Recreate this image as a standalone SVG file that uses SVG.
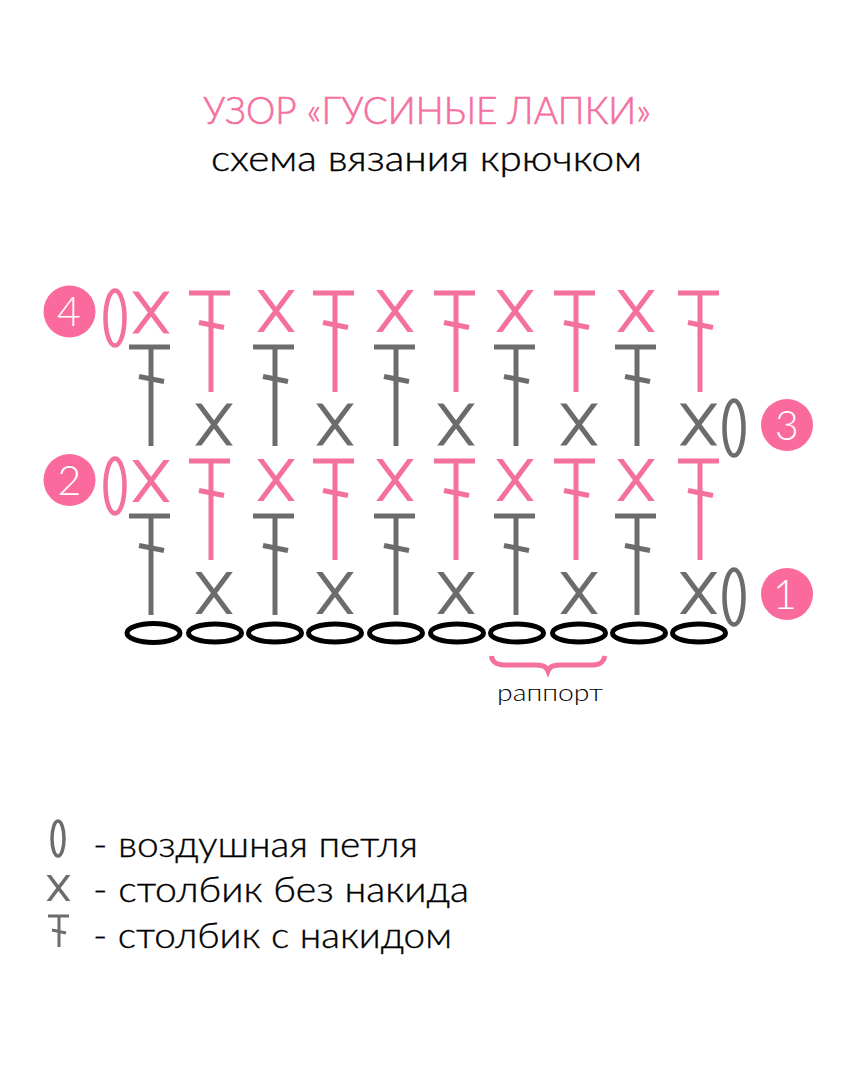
<svg xmlns="http://www.w3.org/2000/svg" width="865" height="1080" viewBox="0 0 865 1080">
<style>
text{font-family:"Lato","Noto Sans","Liberation Sans",sans-serif;font-weight:300}
.p{stroke:#f4709f;fill:none}
.g{stroke:#6c6c6c;fill:none}
.k{stroke:#000;fill:none;stroke-width:5}
.n{fill:#fb6a9c}
.d{fill:#fff;font-size:41px;text-anchor:middle}
.t{fill:#000;font-size:35px;stroke:#000;stroke-width:.35}
</style>
<defs>
<clipPath id="xc"><rect x="-24" y="-21" width="48" height="42"/></clipPath>
<clipPath id="xs"><rect x="-14" y="-13" width="28" height="26"/></clipPath>
<g id="x"><path clip-path="url(#xc)" d="M-19 -25.500L19 25.500M19 -25.500L-19 25.500" stroke-width="5"/></g>
<g id="tp"><path d="M-22 0H19" stroke-width="5"/><path d="M0 0V99" stroke-width="5"/><path d="M-12 29.500L13 34.500" stroke-width="5"/></g>
<g id="o"><ellipse cx="0" cy="0" rx="9.500" ry="27.500" stroke-width="4.500"/></g>
</defs>
<g id="title">
<text x="203" y="124" font-size="37" fill="#f4709f" stroke="#f4709f" stroke-width=".6" textLength="448" lengthAdjust="spacingAndGlyphs">УЗОР «ГУСИНЫЕ ЛАПКИ»</text>
<text x="211" y="171" font-size="36" fill="#000" stroke="#000" stroke-width=".4" textLength="431" lengthAdjust="spacingAndGlyphs">схема вязания крючком</text>
</g>
<g id="row4">
<use href="#o" class="p" x="115" y="318"/>
<use href="#x" class="p" x="151" y="312.500"/><use href="#x" class="p" x="276" y="311"/><use href="#x" class="p" x="395" y="311"/><use href="#x" class="p" x="515" y="311"/><use href="#x" class="p" x="636" y="311"/>
<use href="#tp" class="p" x="211" y="293"/><use href="#tp" class="p" x="335" y="293"/><use href="#tp" class="p" x="456" y="293"/><use href="#tp" class="p" x="576" y="293"/><use href="#tp" class="p" x="700" y="293"/>
</g>
<g id="row3">
<use href="#tp" class="g" x="151" y="347"/><use href="#tp" class="g" x="275" y="347"/><use href="#tp" class="g" x="396" y="347"/><use href="#tp" class="g" x="516" y="347"/><use href="#tp" class="g" x="637" y="347"/>
<use href="#x" class="g" x="214" y="424.500"/><use href="#x" class="g" x="335" y="424.500"/><use href="#x" class="g" x="456" y="424.500"/><use href="#x" class="g" x="579" y="424.500"/><use href="#x" class="g" x="698.500" y="424.500"/>
<use href="#o" class="g" x="734" y="428"/>
</g>
<g id="row2">
<use href="#o" class="p" x="115" y="486"/>
<use href="#x" class="p" x="151" y="481"/><use href="#x" class="p" x="276" y="480"/><use href="#x" class="p" x="395" y="480"/><use href="#x" class="p" x="515" y="480"/><use href="#x" class="p" x="636" y="480"/>
<use href="#tp" class="p" x="211" y="461"/><use href="#tp" class="p" x="335" y="461"/><use href="#tp" class="p" x="456" y="461"/><use href="#tp" class="p" x="576" y="461"/><use href="#tp" class="p" x="700" y="461"/>
</g>
<g id="row1">
<use href="#tp" class="g" x="151" y="516"/><use href="#tp" class="g" x="275" y="516"/><use href="#tp" class="g" x="396" y="516"/><use href="#tp" class="g" x="516" y="516"/><use href="#tp" class="g" x="637" y="516"/>
<use href="#x" class="g" x="214" y="593"/><use href="#x" class="g" x="335" y="593"/><use href="#x" class="g" x="456" y="593"/><use href="#x" class="g" x="579" y="593"/><use href="#x" class="g" x="698.500" y="593"/>
<use href="#o" class="g" x="734" y="597"/>
</g>
<g id="chain">
<ellipse class="k" cx="153.500" cy="633" rx="26.500" ry="9.500"/><ellipse class="k" cx="215" cy="633" rx="26.500" ry="9"/><ellipse class="k" cx="275" cy="633" rx="26.500" ry="9"/><ellipse class="k" cx="335" cy="633" rx="26.500" ry="9"/><ellipse class="k" cx="396" cy="633" rx="26.500" ry="9"/><ellipse class="k" cx="457" cy="633" rx="26.500" ry="9"/><ellipse class="k" cx="517" cy="633" rx="26.500" ry="9"/><ellipse class="k" cx="579" cy="633" rx="26.500" ry="9"/><ellipse class="k" cx="639" cy="633" rx="26.500" ry="9"/><ellipse class="k" cx="699" cy="633" rx="26.500" ry="9"/>
</g>
<g id="badge4"><circle class="n" cx="69.500" cy="311.500" r="26"/><text class="d" x="69" y="326">4</text></g>
<g id="badge2"><circle class="n" cx="69.500" cy="480" r="26"/><text class="d" x="69.500" y="495">2</text></g>
<g id="badge3"><circle class="n" cx="787" cy="425" r="26"/><text class="d" x="787" y="440">3</text></g>
<g id="badge1"><circle class="n" cx="787" cy="594" r="26"/><text class="d" x="785" y="609">1</text></g>
<g id="repeat">
<path d="M491.500 656C492 661 496 665 504 665H535C542 665 546 666 548 671C550 666 554 665 561 665H593C600 665 604 661 605 656" stroke="#f4709f" stroke-width="5" fill="none"/>
<text x="497" y="701" font-size="24" fill="#000" textLength="106" lengthAdjust="spacingAndGlyphs">раппорт</text>
</g>
<g id="legend">
<ellipse class="g" cx="58" cy="838.500" rx="6" ry="17.500" stroke-width="3.500"/>
<path class="g" clip-path="url(#xs)" transform="translate(58.500 888)" stroke-width="3.500" d="M-12 -16L12 16M12 -16L-12 16"/>
<path class="g" stroke-width="3" d="M48 916H69M59 916V947M52 930L66 933"/>
<text class="t" x="93" y="857" textLength="325" lengthAdjust="spacingAndGlyphs">- воздушная петля</text>
<text class="t" x="93" y="902" textLength="376" lengthAdjust="spacingAndGlyphs">- столбик без накида</text>
<text class="t" x="93" y="948" textLength="359" lengthAdjust="spacingAndGlyphs">- столбик с накидом</text>
</g>
</svg>
